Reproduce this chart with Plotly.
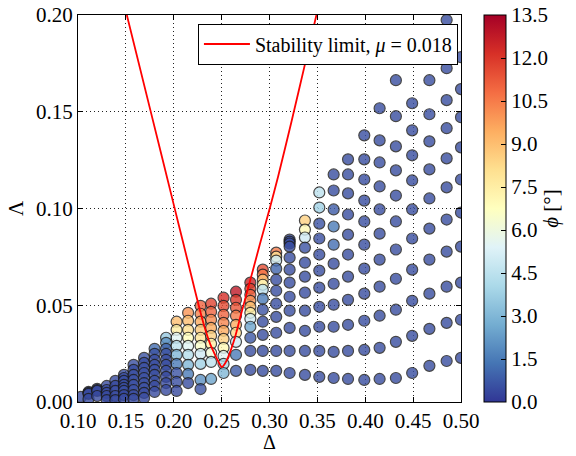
import plotly.graph_objects as go

# Column positions (Delta) of the computed cases
delta_cols = [0.103, 0.111, 0.120, 0.130, 0.139, 0.148, 0.158, 0.169, 0.180, 0.192,
              0.203, 0.215, 0.228, 0.239, 0.252, 0.265, 0.280, 0.293, 0.307, 0.321,
              0.337, 0.352, 0.367, 0.382, 0.399, 0.415, 0.432, 0.449, 0.467, 0.485,
              0.500]

# Lambda values in each column (top to bottom)
lambda_cols = [
    [0.0026],
    [0.0052, 0.0047, 0.0042, 0.0016],
    [0.0068, 0.0062, 0.0057, 0.0031],
    [0.0083, 0.0062, 0.0047, 0.0031, 0.0010],
    [0.0109, 0.0083, 0.0057, 0.0031, 0.0010],
    [0.0140, 0.0124, 0.0109, 0.0088, 0.0073, 0.0057, 0.0036, 0.0016],
    [0.0192, 0.0166, 0.0140, 0.0114, 0.0088, 0.0062, 0.0036, 0.0016],
    [0.0228, 0.0202, 0.0176, 0.0150, 0.0124, 0.0098, 0.0073, 0.0047, 0.0021],
    [0.0275, 0.0249, 0.0218, 0.0192, 0.0166, 0.0140, 0.0109, 0.0083, 0.0052],
    [0.0332, 0.0306, 0.0275, 0.0249, 0.0218, 0.0192, 0.0161, 0.0130, 0.0098, 0.0062],
    [0.0415, 0.0373, 0.0332, 0.0290, 0.0244, 0.0197, 0.0150, 0.0104, 0.0057],
    [0.0461, 0.0420, 0.0373, 0.0332, 0.0290, 0.0244, 0.0192, 0.0145, 0.0098],
    [0.0497, 0.0456, 0.0415, 0.0373, 0.0332, 0.0290, 0.0249, 0.0197, 0.0114, 0.0067],
    [0.0508, 0.0466, 0.0425, 0.0383, 0.0342, 0.0301, 0.0254, 0.0207, 0.0119],
    [0.0539, 0.0497, 0.0451, 0.0409, 0.0368, 0.0326, 0.0280, 0.0238, 0.0197, 0.0150],
    [0.0570, 0.0528, 0.0487, 0.0446, 0.0399, 0.0358, 0.0311, 0.0244, 0.0161],
    [0.0617, 0.0585, 0.0554, 0.0523, 0.0492, 0.0461, 0.0430, 0.0389, 0.0332, 0.0264, 0.0166],
    [0.0684, 0.0658, 0.0632, 0.0606, 0.0580, 0.0534, 0.0477, 0.0415, 0.0347, 0.0264, 0.0161],
    [0.0772, 0.0751, 0.0731, 0.0689, 0.0632, 0.0575, 0.0508, 0.0440, 0.0358, 0.0264, 0.0161],
    [0.0839, 0.0829, 0.0819, 0.0803, 0.0746, 0.0684, 0.0617, 0.0544, 0.0472, 0.0383, 0.0264, 0.0150],
    [0.0938, 0.0891, 0.0850, 0.0798, 0.0720, 0.0648, 0.0565, 0.0472, 0.0368, 0.0264, 0.0140],
    [0.1083, 0.1005, 0.0922, 0.0845, 0.0762, 0.0679, 0.0591, 0.0492, 0.0389, 0.0264, 0.0130],
    [0.1176, 0.1093, 0.0995, 0.0907, 0.0813, 0.0715, 0.0611, 0.0503, 0.0389, 0.0259, 0.0124],
    [0.1254, 0.1176, 0.1078, 0.0969, 0.0865, 0.0762, 0.0648, 0.0528, 0.0399, 0.0264, 0.0119],
    [0.1378, 0.1254, 0.1150, 0.1041, 0.0933, 0.0813, 0.0689, 0.0560, 0.0420, 0.0269, 0.0114],
    [0.1518, 0.1352, 0.1238, 0.1114, 0.0995, 0.0870, 0.0736, 0.0596, 0.0446, 0.0280, 0.0119],
    [0.1663, 0.1477, 0.1321, 0.1197, 0.1067, 0.0933, 0.0788, 0.0637, 0.0477, 0.0311, 0.0124],
    [0.1782, 0.1544, 0.1404, 0.1275, 0.1145, 0.0995, 0.0845, 0.0684, 0.0523, 0.0342, 0.0150],
    [0.1663, 0.1487, 0.1347, 0.1202, 0.1052, 0.0896, 0.0736, 0.0560, 0.0378, 0.0187],
    [0.1974, 0.1725, 0.1560, 0.1415, 0.1259, 0.1109, 0.0943, 0.0777, 0.0596, 0.0409, 0.0212],
    [0.1782, 0.1617, 0.1472, 0.1316, 0.1150, 0.0979, 0.0803, 0.0617, 0.0425, 0.0228],
]

# Phase angle phi [deg] of each case, same layout as lambda_cols
phi_cols = [
    [0.4],
    [0.4, 0.4, 0.4, 0.4],
    [0.4, 0.4, 0.4, 0.4],
    [0.4, 0.4, 0.4, 0.4, 0.4],
    [0.4, 0.4, 0.4, 0.4, 0.4],
    [0.5, 0.5, 0.5, 0.5, 0.5, 0.5, 0.4, 0.4],
    [0.5, 0.5, 0.5, 0.5, 0.5, 0.5, 0.4, 0.4],
    [0.6, 0.5, 0.5, 0.5, 0.5, 0.5, 0.5, 0.4, 0.4],
    [1.2, 0.6, 0.5, 0.5, 0.5, 0.5, 0.5, 0.4, 0.4],
    [3.5, 2.0, 1.0, 0.6, 0.5, 0.5, 0.5, 0.4, 0.4, 0.4],
    [9.0, 7.5, 5.5, 4.5, 3.0, 1.5, 0.6, 0.5, 0.4],
    [10.0, 9.0, 8.0, 6.8, 5.5, 4.3, 3.0, 1.5, 0.5],
    [11.0, 10.3, 9.5, 8.7, 7.8, 6.5, 5.0, 3.8, 2.0, 0.6],
    [11.7, 11.0, 10.2, 9.5, 8.5, 7.5, 6.2, 4.5, 2.5],
    [12.2, 11.6, 11.0, 10.3, 9.5, 8.5, 7.0, 5.5, 4.0, 3.0],
    [12.8, 12.0, 11.3, 10.5, 9.5, 8.2, 5.0, 1.5, 0.8],
    [12.5, 11.8, 11.0, 10.0, 9.0, 7.5, 5.0, 2.5, 0.7, 0.5, 0.5],
    [11.5, 10.5, 9.0, 7.0, 4.5, 1.5, 0.6, 0.5, 0.5, 0.5, 0.5],
    [10.5, 8.0, 5.0, 1.0, 0.5, 0.5, 0.5, 0.5, 0.5, 0.5, 0.5],
    [0.5, 0.5, 0.5, 0.5, 0.5, 0.5, 0.5, 0.5, 0.5, 0.5, 0.5, 0.5],
    [8.5, 7.0, 5.0, 0.6, 0.5, 0.5, 0.5, 0.5, 0.5, 0.5, 0.5],
    [4.5, 3.8, 0.6, 0.5, 0.5, 0.5, 0.5, 0.5, 0.5, 0.5, 0.5],
    [0.5, 0.5, 0.8, 1.5, 1.2, 0.5, 0.5, 0.5, 0.5, 0.5, 0.5],
    [0.5, 0.5, 0.5, 0.5, 0.5, 0.5, 0.5, 0.5, 0.5, 0.5, 0.5],
    [0.5, 0.5, 0.5, 0.5, 0.5, 0.5, 0.5, 0.5, 0.5, 0.5, 0.5],
    [0.5, 0.5, 0.5, 0.5, 0.5, 0.5, 0.5, 0.5, 0.5, 0.5, 0.5],
    [0.5, 0.5, 0.5, 0.5, 0.5, 0.5, 0.5, 0.5, 0.5, 0.5, 0.5],
    [0.5, 0.5, 0.5, 0.5, 0.5, 0.5, 0.5, 0.5, 0.5, 0.5, 0.5],
    [0.5, 0.5, 0.5, 0.5, 0.5, 0.5, 0.5, 0.5, 0.5, 0.5],
    [0.5, 0.5, 0.5, 0.5, 0.5, 0.5, 0.5, 0.5, 0.5, 0.5, 0.5],
    [0.5, 0.5, 0.5, 0.5, 0.5, 0.5, 0.5, 0.5, 0.5, 0.5],
]

# Stability limit curve for mu = 0.018
stab_delta = [0.151, 0.175, 0.200, 0.210, 0.218, 0.226, 0.232, 0.238, 0.243, 0.247,
              0.250, 0.253, 0.257, 0.264, 0.270, 0.278, 0.290, 0.300, 0.309, 0.323,
              0.337, 0.349]
stab_lambda = [0.200, 0.152, 0.102, 0.082, 0.066, 0.050, 0.039, 0.030, 0.0245, 0.0205,
               0.018, 0.0195, 0.0235, 0.0335, 0.0448, 0.0595, 0.0816, 0.0996, 0.1165,
               0.1450, 0.1745, 0.200]

x_ticks = [0.10, 0.15, 0.20, 0.25, 0.30, 0.35, 0.40, 0.45, 0.50]
y_ticks = [0.00, 0.05, 0.10, 0.15, 0.20]
phi_ticks = [0.0, 1.5, 3.0, 4.5, 6.0, 7.5, 9.0, 10.5, 12.0, 13.5]

rdylbu_r = [[0.0, 'rgb(49,54,149)'], [0.1, 'rgb(69,117,180)'], [0.2, 'rgb(116,173,209)'],
            [0.3, 'rgb(171,217,233)'], [0.4, 'rgb(224,243,248)'], [0.5, 'rgb(255,255,191)'],
            [0.6, 'rgb(254,224,144)'], [0.7, 'rgb(253,174,97)'], [0.8, 'rgb(244,109,67)'],
            [0.9, 'rgb(215,48,39)'], [1.0, 'rgb(165,0,38)']]

xs, ys, cs = [], [], []
for d, lams, phis in zip(delta_cols, lambda_cols, phi_cols):
    for lam, ph in zip(lams, phis):
        xs.append(d)
        ys.append(lam)
        cs.append(ph)

FONT = "Liberation Serif"
fsize = 21

fig = go.Figure()
fig.add_trace(go.Scatter(
    x=xs, y=ys, mode="markers", showlegend=False, hoverinfo="skip",
    marker=dict(
        size=11, color=cs, colorscale=rdylbu_r, cmin=0, cmax=13.5, opacity=0.8,
        line=dict(color="#1a1a1a", width=1.2),
        colorbar=dict(
            x=1.0594, xanchor="left", xpad=0, ypad=0, y=0.5, yanchor="middle",
            len=1, lenmode="fraction", thickness=22, thicknessmode="pixels",
            outlinewidth=1, outlinecolor="black",
            tickvals=phi_ticks, ticktext=[f"{t:.1f}" for t in phi_ticks],
            ticks="inside", ticklen=5, tickcolor="black",
            tickfont=dict(family=FONT, size=fsize, color="black"),
            title=dict(text="<i>ϕ</i> [°]", side="right",
                       font=dict(family=FONT, size=fsize, color="black")),
        ),
    ),
))
fig.add_trace(go.Scatter(
    x=stab_delta, y=stab_lambda, mode="lines",
    line=dict(color="red", width=1.8, shape="spline", smoothing=0.5),
    name="Stability limit, <i>μ</i> = 0.018",
))

axis_common = dict(
    ticks="inside", ticklen=5, tickcolor="black", mirror="allticks",
    showline=True, linecolor="black", linewidth=1,
    showgrid=True, gridcolor="#222222", griddash="1px,3px", gridwidth=1,
    zeroline=False, automargin=False,
    tickfont=dict(family=FONT, size=fsize, color="black"),
)

fig.update_layout(
    width=576, height=456,
    margin=dict(l=78, r=111, t=15, b=54),
    paper_bgcolor="white", plot_bgcolor="white",
    font=dict(family=FONT, size=fsize, color="black"),
    xaxis=dict(range=[0.1, 0.5], tickvals=x_ticks,
               ticktext=[f"{t:.2f}" for t in x_ticks],
               **axis_common),
    yaxis=dict(range=[0.0, 0.2], tickvals=y_ticks,
               ticktext=[f"{t:.2f}" for t in y_ticks],
               title=dict(text="Λ", standoff=6,
                          font=dict(family=FONT, size=fsize, color="black")),
               **axis_common),
    legend=dict(x=0.992, xanchor="right", y=0.978, yanchor="top",
                bgcolor="white", bordercolor="black", borderwidth=1,
                itemwidth=46, font=dict(family=FONT, size=20, color="black")),
    annotations=[dict(text="Δ", xref="paper", yref="paper", x=0.5, y=-0.137,
                      xanchor="center", yanchor="bottom", showarrow=False,
                      font=dict(family=FONT, size=20, color="black"))],
)

fig.write_html("out.html")
